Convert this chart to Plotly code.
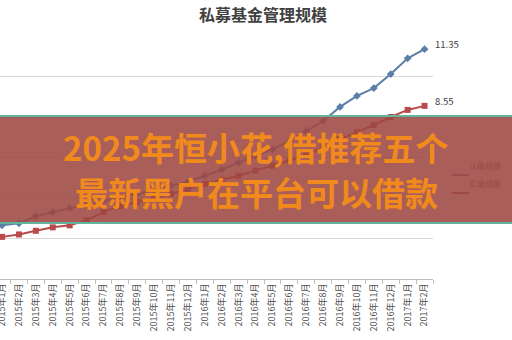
import plotly.graph_objects as go

# ---- data ----
months = ["2015年1月", "2015年2月", "2015年3月", "2015年4月", "2015年5月", "2015年6月",
          "2015年7月", "2015年8月", "2015年9月", "2015年10月", "2015年11月", "2015年12月",
          "2016年1月", "2016年2月", "2016年3月", "2016年4月", "2016年5月", "2016年6月",
          "2016年7月", "2016年8月", "2016年9月", "2016年10月", "2016年11月", "2016年12月",
          "2017年1月", "2017年2月"]
subscribed = [2.65, 2.75, 3.1, 3.3, 3.5, 3.65, 3.85, 4.05, 4.2, 4.4, 4.6, 4.8, 5.1,
              5.4, 5.75, 6.1, 6.4, 6.8, 7.3, 7.8, 8.5, 9.04, 9.43, 10.12, 10.9, 11.35]
paid_in = [2.08, 2.2, 2.38, 2.55, 2.65, 2.9, 3.3, 3.6, 3.8, 4.0, 4.2, 4.45, 4.7,
           4.9, 5.1, 5.35, 5.6, 5.85, 6.15, 6.5, 6.9, 7.25, 7.6, 8.0, 8.35, 8.55]
series_names = ["认缴规模", "实缴规模"]
title_text = "私募基金管理规模"
banner_lines = ["2025年恒小花,借推荐五个", "最新黑户在平台可以借款"]

BLUE = "#5b7fa8"
RED = "#b9494b"

W, H = 512, 340
ML, MR, MT, MB = 0, 79, 36, 61
PW = W - ML - MR
PH = H - MT - MB


def px_x(px):
    return (px - ML) / PW


def px_y(py):
    return (H - MB - py) / PH


fig = go.Figure()
fig.add_trace(go.Scatter(x=months, y=subscribed, name=series_names[0], mode="lines+markers",
                         line=dict(color=BLUE, width=2),
                         marker=dict(symbol="diamond", size=6, color=BLUE)))
fig.add_trace(go.Scatter(x=months, y=paid_in, name=series_names[1], mode="lines+markers",
                         line=dict(color=RED, width=2),
                         marker=dict(symbol="square", size=6, color=RED)))

# data labels on last points
for vals in (subscribed, paid_in):
    fig.add_annotation(x=months[-1], y=vals[-1], xref="x", yref="y",
                       text=f"{vals[-1]:.2f}", showarrow=False,
                       xanchor="left", yanchor="middle", xshift=8, yshift=5,
                       font=dict(size=9.5, color="#404040"))

shapes = []
# legend (drawn beneath the banner)
for i, (name, col) in enumerate(zip(series_names, [BLUE, RED])):
    py = 175 + i * 18
    shapes.append(dict(type="line", xref="paper", yref="paper",
                       x0=px_x(452), x1=px_x(469), y0=px_y(py), y1=px_y(py),
                       line=dict(color=col, width=2), layer="above",
                       label=dict(text=name, textposition="end", xanchor="left",
                                  font=dict(size=8, color="#595959"))))
# banner band
shapes.append(dict(type="rect", xref="paper", yref="paper",
                   x0=px_x(-2), x1=px_x(W + 2), y0=px_y(223), y1=px_y(116),
                   fillcolor="rgba(158,72,66,0.88)", line=dict(width=0), layer="above"))
for py in (116, 223):
    shapes.append(dict(type="line", xref="paper", yref="paper",
                       x0=px_x(-2), x1=px_x(W + 2), y0=px_y(py), y1=px_y(py),
                       line=dict(color="#62b59c", width=2), layer="above"))

# banner text
for line, cy in zip(banner_lines, (147, 192)):
    fig.add_annotation(x=px_x(256), y=px_y(cy), xref="paper", yref="paper",
                       text=f"<b>{line}</b>", showarrow=False,
                       xanchor="center", yanchor="middle",
                       font=dict(size=33, color="#f08a1c", family="Noto Sans CJK SC"))

fig.update_layout(
    width=W, height=H,
    margin=dict(l=ML, r=MR, t=MT, b=MB),
    paper_bgcolor="white", plot_bgcolor="white",
    font=dict(family="Noto Sans CJK SC", color="#595959"),
    showlegend=False,
    title=dict(text=title_text, x=263 / W, xref="container", xanchor="center",
               y=1 - 15 / H, yref="container", yanchor="middle",
               font=dict(size=16, color="#404040", weight="bold")),
    shapes=shapes,
)
fig.update_xaxes(type="category", range=[25.5 - PW / 16.9, 25.5], automargin=False,
                 showgrid=False, showline=True, linecolor="#bfbfbf", linewidth=1,
                 ticks="outside", tickson="boundaries", ticklen=4, tickcolor="#bfbfbf",
                 tickangle=-90, tickfont=dict(size=9, color="#505050"))
fig.update_yaxes(range=[0, 12], dtick=2, showgrid=True, gridcolor="#d9d9d9", gridwidth=1,
                 zeroline=False, showticklabels=False, showline=False, automargin=False)

fig.write_html("out.html")
